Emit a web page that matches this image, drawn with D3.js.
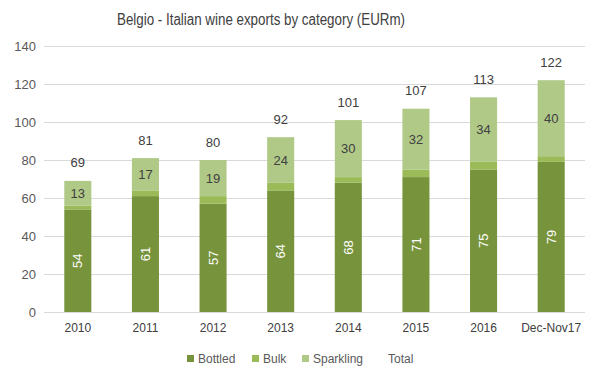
<!DOCTYPE html>
<html><head><meta charset="utf-8">
<script src="https://cdn.jsdelivr.net/npm/d3@7"></script>
<style>body{margin:0;background:#fff}</style>
</head><body>
<svg id="c" width="599" height="378"></svg>
<script>
const categories = ["2010","2011","2012","2013","2014","2015","2016","Dec-Nov17"];
const bottled = [54,61,57,64,68,71,75,79];
const bulk = [2,3,4,4,3,4,4,3];
const sparkling = [13,17,19,24,30,32,34,40];
const total = [69,81,80,92,101,107,113,122];
const yTicks = [0,20,40,60,80,100,120,140];
const seriesNames = ["Bottled","Bulk","Sparkling"];
const colors = {Bottled:"#77933c", Bulk:"#9bbb59", Sparkling:"#b0c987"};

const svg = d3.select("#c");
const m = {l:44, r:14, t:46, b:66};
const W = 599, H = 378;
const x = d3.scaleBand().domain(categories).range([m.l, W-m.r]).paddingInner(0.6).paddingOuter(0.3);
const y = d3.scaleLinear().domain([0,140]).range([H-m.b, m.t]);
const font = "'Liberation Sans', Arial, sans-serif";

svg.append("text").attr("x", 261).attr("y", 25).attr("text-anchor","middle")
  .attr("font-family",font).attr("font-size",16)
  .attr("textLength",288).attr("lengthAdjust","spacingAndGlyphs")
  .attr("fill","#404040").text("Belgio - Italian wine exports by category (EURm)");

// grid
svg.append("g").selectAll("line").data(yTicks).join("line")
  .attr("x1", m.l).attr("x2", W-m.r).attr("y1", d=>y(d)+0.5).attr("y2", d=>y(d)+0.5)
  .attr("stroke","#d9d9d9").attr("stroke-width",1);

const yAxis = svg.append("g").attr("transform",`translate(${m.l},0)`)
  .call(d3.axisLeft(y).tickValues(yTicks).tickSize(0).tickPadding(8));
yAxis.select(".domain").remove();
yAxis.selectAll("text").attr("font-family",font).attr("font-size",13).attr("fill","#595959");

const xAxis = svg.append("g").attr("transform",`translate(0,${y(0)})`)
  .call(d3.axisBottom(x).tickSize(0).tickPadding(11));
xAxis.select(".domain").remove();
xAxis.selectAll("text").attr("font-family",font).attr("font-size",12).attr("fill","#404040");

const rows = categories.map((c,i)=>({cat:c, Bottled:bottled[i], Bulk:bulk[i], Sparkling:sparkling[i], total:total[i]}));
const stack = d3.stack().keys(seriesNames)(rows);

svg.append("g").selectAll("g").data(stack).join("g").attr("fill", d=>colors[d.key])
  .selectAll("rect").data(d=>d).join("rect")
  .attr("x", d=>x(d.data.cat)).attr("width", x.bandwidth())
  .attr("y", d=>y(d[1])).attr("height", d=>y(d[0])-y(d[1]));

// bottled labels rotated
svg.append("g").selectAll("text").data(stack[0]).join("text")
  .attr("transform", d=>`translate(${x(d.data.cat)+x.bandwidth()/2},${(y(d[0])+y(d[1]))/2}) rotate(-90)`)
  .attr("text-anchor","middle").attr("dy","0.35em")
  .attr("font-family",font).attr("font-size",13).attr("fill","#ffffff")
  .text(d=>d.data.Bottled);

// sparkling labels
svg.append("g").selectAll("text").data(stack[2]).join("text")
  .attr("x", d=>x(d.data.cat)+x.bandwidth()/2).attr("y", d=>(y(d[0])+y(d[1]))/2)
  .attr("text-anchor","middle").attr("dy","0.35em")
  .attr("font-family",font).attr("font-size",13).attr("fill","#404040")
  .text(d=>d.data.Sparkling);

// total labels
svg.append("g").selectAll("text").data(rows).join("text")
  .attr("x", d=>x(d.cat)+x.bandwidth()/2).attr("y", d=>y(d.total)-18)
  .attr("text-anchor","middle").attr("dy","0.35em")
  .attr("font-family",font).attr("font-size",13).attr("fill","#404040")
  .text(d=>d.total);

// legend
const legendItems = [...seriesNames, "Total"];
const lx = [187, 252, 302, 377];
const lg = svg.append("g");
legendItems.forEach((n,i)=>{
  if (colors[n]) lg.append("rect").attr("x", lx[i]).attr("y", 355).attr("width",7).attr("height",7).attr("fill",colors[n]);
  lg.append("text").attr("x", lx[i]+11).attr("y", 359).attr("dy","0.35em")
    .attr("font-family",font).attr("font-size",12).attr("fill","#595959").text(n);
});
</script>
</body></html>
